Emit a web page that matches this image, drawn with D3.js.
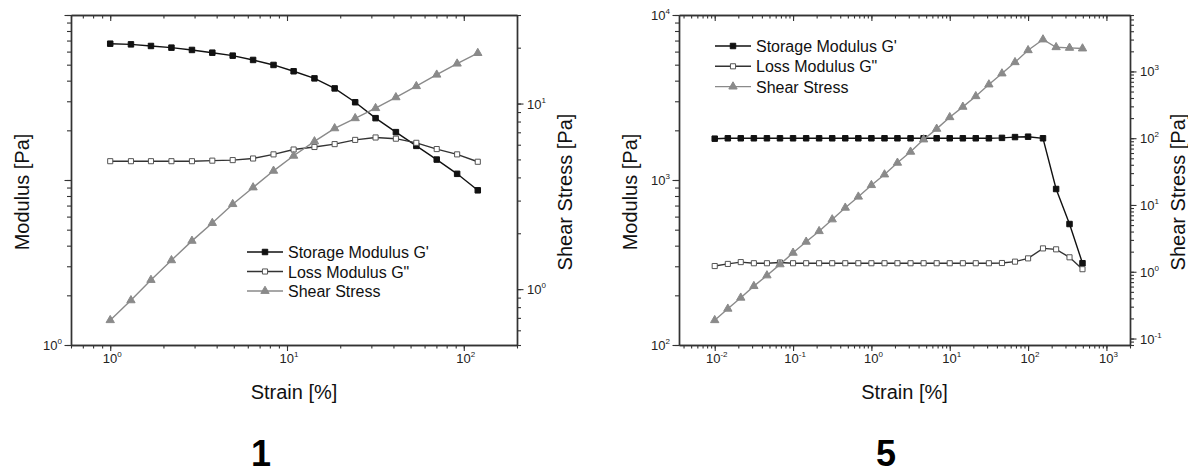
<!DOCTYPE html>
<html>
<head>
<meta charset="utf-8">
<script src="https://cdn.jsdelivr.net/npm/d3@7"></script>
<style>
  body { margin: 0; background: #fff; }
  svg { display: block; font-family: "Liberation Sans", Arial, sans-serif; }
</style>
</head>
<body>
<svg id="chart" width="1188" height="476"></svg>
<script>
// panel "1"
const strain1 = [1, 1.31, 1.70, 2.22, 2.90, 3.78, 4.93, 6.43, 8.39, 10.9, 14.3, 18.6, 24.3, 31.7, 41.3, 53.9, 70.3, 91.7, 120];
const storage1 = [67.0, 66.4, 64.9, 63.4, 61.4, 59.1, 56.7, 53.4, 49.8, 45.6, 41.3, 35.9, 29.6, 23.7, 19.5, 16.1, 13.3, 10.9, 8.66];
const loss1 = [13.0, 13.0, 13.0, 13.0, 13.0, 13.1, 13.2, 13.5, 14.3, 15.3, 15.85, 16.5, 17.5, 18.1, 17.8, 16.8, 15.4, 14.3, 12.9];
const stress1 = [0.68, 0.87, 1.12, 1.43, 1.82, 2.27, 2.87, 3.53, 4.34, 5.23, 6.25, 7.35, 8.33, 9.44, 10.8, 12.4, 14.3, 16.4, 18.7];

// panel "5"
const strain5 = [0.01, 0.0147, 0.0215, 0.0316, 0.0464, 0.0681, 0.1, 0.147, 0.215, 0.316, 0.464, 0.681, 1, 1.47, 2.15,
  3.16, 4.64, 6.81, 10, 14.7, 21.5, 31.6, 46.4, 68.1, 100, 155, 228, 338, 495];
const storage5 = [1780, 1790, 1790, 1790, 1790, 1790, 1790, 1790, 1790, 1790, 1790, 1790, 1790, 1790, 1790,
  1790, 1790, 1790, 1790, 1790, 1790, 1790, 1800, 1820, 1830, 1790, 882, 541, 313];
const loss5 = [301, 310, 318, 313, 313, 316, 313, 313, 313, 313, 313, 313, 313, 313, 313,
  313, 313, 313, 313, 313, 313, 313, 314, 320, 335, 385, 380, 340, 288];
const stress5 = [0.188, 0.279, 0.408, 0.609, 0.88, 1.29, 1.92, 2.81, 4.05, 6.07, 9.08, 13.3, 19.8, 28.6, 42.8,
  62.6, 95.6, 138, 206, 295, 425, 637, 931, 1373, 2075, 3006, 2302, 2254, 2203];

const seriesNames = ["Storage Modulus G'", 'Loss Modulus G"', 'Shear Stress'];
const panelLabels = ['1', '5'];

const axisColor = '#333';
const styles = [
  { line: '#111', fill: '#111', stroke: '#111', symbol: d3.symbolSquare, size: 30 },
  { line: '#333', fill: '#fff', stroke: '#555', symbol: d3.symbolSquare, size: 26 },
  { line: '#8a8a8a', fill: '#8a8a8a', stroke: '#8a8a8a', symbol: d3.symbolTriangle, size: 30 }
];

const svg = d3.select('#chart');

// all 1..9 x 10^k ticks inside the domain
function logTicks(domain) {
  const out = [];
  const lo = Math.floor(Math.log10(domain[0])), hi = Math.ceil(Math.log10(domain[1]));
  for (let e = lo; e <= hi; e++) {
    for (let m = 1; m < 10; m++) {
      const v = m * Math.pow(10, e);
      if (v >= domain[0] * 0.999 && v <= domain[1] * 1.001) out.push(v);
    }
  }
  return out;
}

function powLabel(g, x, y, exp, anchor) {
  const t = g.append('text')
    .attr('x', x).attr('y', y)
    .attr('text-anchor', anchor)
    .attr('font-size', 13)
    .attr('fill', '#222');
  t.append('tspan').text('10');
  t.append('tspan').attr('font-size', 8).attr('dy', -6).text(exp);
}

function styleAxis(g) {
  g.select('.domain').attr('stroke', axisColor).attr('stroke-width', 1.4);
  g.selectAll('.tick line').attr('stroke', axisColor).attr('stroke-width', 1.1);
  g.selectAll('.tick text').remove();
}

function drawPanel(p) {
  const x = d3.scaleLog().domain(p.xDomain).range([p.left, p.right]);
  const yL = d3.scaleLog().domain(p.yDomain).range([p.bottom, p.top]);
  const yR = d3.scaleLog().domain(p.y2Domain).range([p.bottom, p.top]);
  const g = svg.append('g');

  const xMajor = logTicks(p.xDomain).filter(v => Math.abs(Math.log10(v) % 1) < 1e-9);
  const xMinor = logTicks(p.xDomain);
  const lMajor = logTicks(p.yDomain).filter(v => Math.abs(Math.log10(v) % 1) < 1e-9);
  const lMinor = logTicks(p.yDomain);
  const rMajor = logTicks(p.y2Domain).filter(v => Math.abs(Math.log10(v) % 1) < 1e-9);
  const rMinor = logTicks(p.y2Domain);

  // bottom (outward) and top (inward)
  g.append('g').attr('transform', `translate(0,${p.bottom})`)
    .call(d3.axisBottom(x).tickValues(xMinor).tickSize(3.5).tickSizeOuter(0)).call(styleAxis);
  g.append('g').attr('transform', `translate(0,${p.bottom})`)
    .call(d3.axisBottom(x).tickValues(xMajor).tickSize(6).tickSizeOuter(0)).call(styleAxis);
  g.append('g').attr('transform', `translate(0,${p.top})`)
    .call(d3.axisTop(x).tickValues(xMinor).tickSize(-3.5).tickSizeOuter(0)).call(styleAxis);
  g.append('g').attr('transform', `translate(0,${p.top})`)
    .call(d3.axisTop(x).tickValues(xMajor).tickSize(-6).tickSizeOuter(0)).call(styleAxis);
  // left and right, outward
  g.append('g').attr('transform', `translate(${p.left},0)`)
    .call(d3.axisLeft(yL).tickValues(lMinor).tickSize(4).tickSizeOuter(0)).call(styleAxis);
  g.append('g').attr('transform', `translate(${p.left},0)`)
    .call(d3.axisLeft(yL).tickValues(lMajor).tickSize(6.5).tickSizeOuter(0)).call(styleAxis);
  g.append('g').attr('transform', `translate(${p.right},0)`)
    .call(d3.axisRight(yR).tickValues(rMinor).tickSize(4).tickSizeOuter(0)).call(styleAxis);
  g.append('g').attr('transform', `translate(${p.right},0)`)
    .call(d3.axisRight(yR).tickValues(rMajor).tickSize(6.5).tickSizeOuter(0)).call(styleAxis);

  xMajor.forEach(v => powLabel(g, x(v) + 2, p.bottom + 18, Math.round(Math.log10(v)), 'middle'));
  lMajor.filter(p.leftLabelFilter).forEach(v => powLabel(g, p.left - 9, yL(v) + 5, Math.round(Math.log10(v)), 'end'));
  rMajor.forEach(v => powLabel(g, p.right + 10, yR(v) + 5, Math.round(Math.log10(v)), 'start'));

  // series
  const sets = [p.storage, p.loss, p.stress];
  const scales = [yL, yL, yR];
  sets.forEach((vals, i) => {
    const st = styles[i];
    const pts = p.strain.map((s, j) => [x(s), scales[i](vals[j])]);
    g.append('path').attr('d', d3.line()(pts))
      .attr('fill', 'none').attr('stroke', st.line).attr('stroke-width', 1.4);
    g.selectAll(null).data(pts).enter().append('path')
      .attr('d', d3.symbol().type(st.symbol).size(st.size))
      .attr('transform', d => `translate(${d[0]},${d[1]})`)
      .attr('fill', st.fill).attr('stroke', st.stroke).attr('stroke-width', 1);
  });

  // legend
  seriesNames.forEach((name, i) => {
    const st = styles[i];
    const ly = p.legendY + i * p.legendStep;
    g.append('line').attr('x1', p.legendX).attr('x2', p.legendX + 36).attr('y1', ly).attr('y2', ly)
      .attr('stroke', st.line).attr('stroke-width', 1.4);
    g.append('path').attr('d', d3.symbol().type(st.symbol).size(st.size))
      .attr('transform', `translate(${p.legendX + 18},${ly})`)
      .attr('fill', st.fill).attr('stroke', st.stroke).attr('stroke-width', 1);
    g.append('text').attr('x', p.legendX + 41).attr('y', ly + 6)
      .attr('font-size', 16).attr('fill', '#111').text(name);
  });

  // titles
  const cy = 192;
  g.append('text').attr('transform', `translate(${p.left - 42},${cy}) rotate(-90)`)
    .attr('text-anchor', 'middle').attr('font-size', 20).attr('fill', '#111').text('Modulus [Pa]');
  g.append('text').attr('transform', `translate(${p.right + 55},${cy}) rotate(-90)`)
    .attr('text-anchor', 'middle').attr('font-size', 20).attr('fill', '#111').text('Shear Stress [Pa]');
  g.append('text').attr('x', (p.left + p.right) / 2).attr('y', 399)
    .attr('text-anchor', 'middle').attr('font-size', 20).attr('fill', '#111').text('Strain [%]');
  g.append('text').attr('x', p.labelX).attr('y', p.labelY)
    .attr('text-anchor', 'middle').attr('font-size', 36).attr('font-weight', 'bold')
    .attr('fill', '#000').text(p.label);
}

drawPanel({
  left: 71, right: 517, top: 15, bottom: 345,
  xDomain: [0.6, 200], yDomain: [1, 100], y2Domain: [0.5, 30],
  leftLabelFilter: v => v === 1,
  strain: strain1, storage: storage1, loss: loss1, stress: stress1,
  legendX: 247, legendY: 252, legendStep: 19.5,
  label: panelLabels[0], labelX: 261, labelY: 466
});

drawPanel({
  left: 679, right: 1130, top: 15, bottom: 345,
  xDomain: [0.0035, 2000], yDomain: [100, 10000], y2Domain: [0.08, 7000],
  leftLabelFilter: v => true,
  strain: strain5, storage: storage5, loss: loss5, stress: stress5,
  legendX: 715, legendY: 46, legendStep: 20.3,
  label: panelLabels[1], labelX: 886, labelY: 466
});
</script>
</body>
</html>
